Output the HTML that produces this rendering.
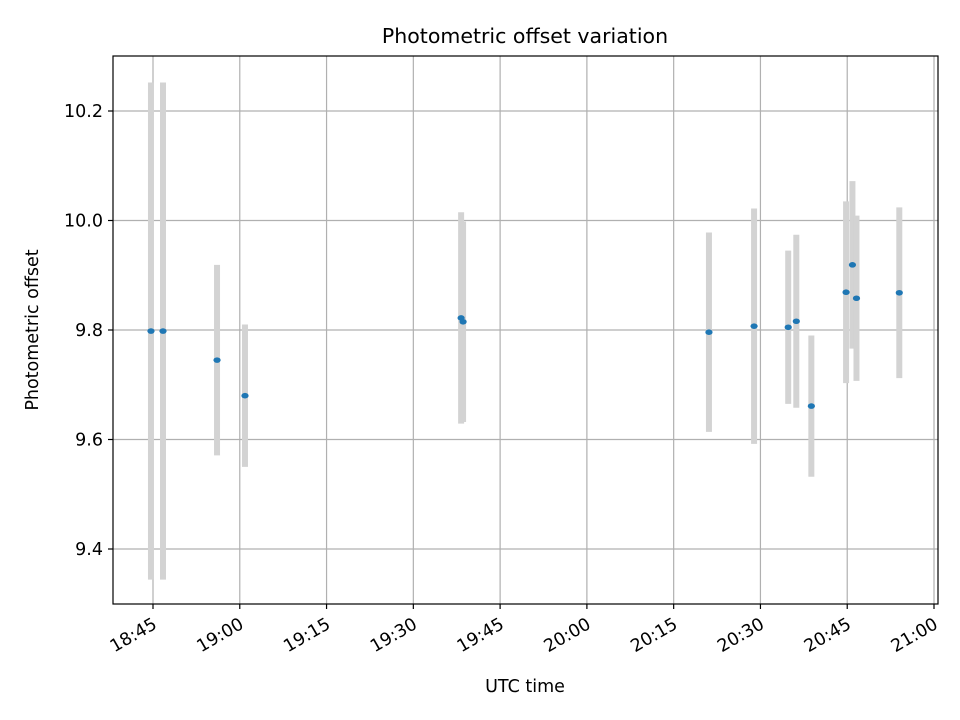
<!DOCTYPE html>
<html><head><meta charset="utf-8"><style>
html,body{margin:0;padding:0;background:#fff}
svg{display:block;font-family:"DejaVu Sans","Liberation Sans",sans-serif}
</style></head><body>
<svg id="chart" width="960" height="720" viewBox="0 0 960 720">
<rect x="0" y="0" width="960" height="720" fill="#fff"/>
<text x="525" y="43" text-anchor="middle" font-size="20.5">Photometric offset variation</text>
<g id="grid"></g><g id="errs"></g><g id="pts"></g><g id="axes"></g>
<text x="525" y="692" text-anchor="middle" font-size="17.5">UTC time</text>
<text transform="translate(38,330) rotate(-90)" text-anchor="middle" font-size="17.5">Photometric offset</text>
</svg>
<script>
// minutes after 18:45 UTC
const times = [-0.35, 1.73, 11.07, 15.9, 53.26, 53.6, 96.1, 103.9, 109.8, 111.2, 113.8, 119.8, 120.9, 121.6, 129.0];
const offsets = [9.798, 9.798, 9.745, 9.680, 9.822, 9.815, 9.796, 9.807, 9.805, 9.816, 9.661, 9.869, 9.919, 9.858, 9.868];
const errors = [0.454, 0.454, 0.174, 0.130, 0.193, 0.183, 0.182, 0.215, 0.140, 0.158, 0.129, 0.166, 0.153, 0.151, 0.156];
const xTicks = [0, 15, 30, 45, 60, 75, 90, 105, 120, 135];
const xTickLabels = ["18:45","19:00","19:15","19:30","19:45","20:00","20:15","20:30","20:45","21:00"];
const yTicks = [9.4, 9.6, 9.8, 10.0, 10.2];
const yTickLabels = ["9.4","9.6","9.8","10.0","10.2"];

const L=113,R=938,T=56,B=604;
const xs = m => 153 + m*(934-153)/135;
const ys = v => 330 - (v-9.8)*547.5;
const NS="http://www.w3.org/2000/svg";
function mk(tag, attrs, parent){const e=document.createElementNS(NS,tag);for(const k in attrs)e.setAttribute(k,attrs[k]);parent.appendChild(e);return e;}
const grid=document.getElementById('grid'),errs=document.getElementById('errs'),pts=document.getElementById('pts'),axes=document.getElementById('axes');
xTicks.forEach((t,i)=>{
  const x=xs(t);
  const g=mk('line',{x1:x,x2:x,y1:T,y2:B,stroke:'#b0b0b0','stroke-width':1.2},grid);
  
  
  mk('line',{x1:x,x2:x,y1:B,y2:B+5,stroke:'#000','stroke-width':1.2},axes);
  const ax=x-1, ay=B+13;
  const tx=mk('text',{x:ax,y:ay,'text-anchor':'end','font-size':17.5,transform:`rotate(-30 ${ax} ${ay})`,'dominant-baseline':'hanging'},axes);
  tx.textContent=xTickLabels[i];
  
  
});
yTicks.forEach((t,i)=>{
  const y=ys(t);
  const g=mk('line',{x1:L,x2:R,y1:y,y2:y,stroke:'#b0b0b0','stroke-width':1.2},grid);
  
  
  mk('line',{x1:L-5,x2:L,y1:y,y2:y,stroke:'#000','stroke-width':1.2},axes);
  const tx=mk('text',{x:L-10,y:y+6,'text-anchor':'end','font-size':17.5},axes);
  tx.textContent=yTickLabels[i];
  
  
});
const frame=mk('rect',{x:L,y:T,width:R-L,height:B-T,fill:'none',stroke:'#000','stroke-width':1.2},axes);


times.forEach((t,i)=>{
  const x=xs(t);
  const e=mk('line',{x1:x,x2:x,y1:ys(offsets[i]+errors[i]),y2:ys(offsets[i]-errors[i]),stroke:'#d3d3d3','stroke-width':6},errs);
  
  
});
times.forEach((t,i)=>{
  const p=mk('ellipse',{cx:xs(t),cy:ys(offsets[i]),rx:3.6,ry:2.8,fill:'#1f77b4'},pts);
  
  
});
</script>
</body></html>
